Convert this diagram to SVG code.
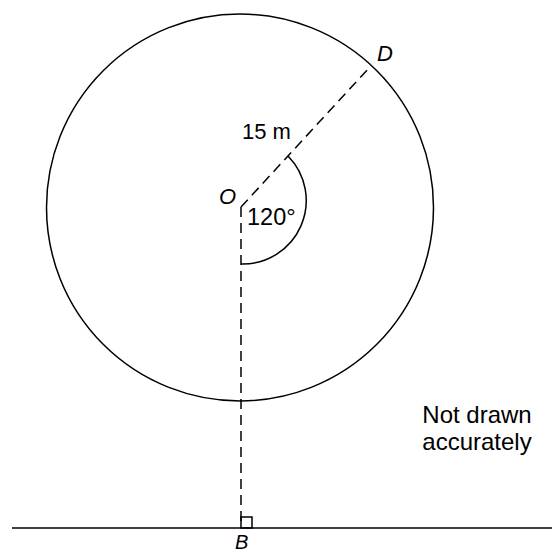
<svg xmlns="http://www.w3.org/2000/svg" width="552" height="553" viewBox="0 0 552 553">
<style>
.ln{fill:none;stroke:#000;stroke-width:1.5}
.ds{fill:none;stroke:#000;stroke-width:1.5;stroke-dasharray:10 6}
.t{font-family:"Liberation Sans",Arial,sans-serif;font-size:22px;fill:#000}
.it{font-style:italic}
</style>
<rect width="552" height="553" fill="#fff"/>
<g id="circle"><circle class="ln" cx="240" cy="207.5" r="193.5"/></g>
<g id="ground"><line class="ln" x1="12" y1="528" x2="552" y2="528"/></g>
<g id="connectors">
<line class="ds" x1="241" y1="207" x2="241" y2="528"/>
<line class="ds" x1="241" y1="207" x2="369" y2="68"/>
<path class="ln" d="M288 156 A63.5 63.5 0 0 1 241 264"/>
<rect class="ln" x="241" y="517" width="11" height="11"/>
</g>
<g id="O"><text class="t it" x="219" y="204">O</text></g>
<g id="D"><text class="t it" x="377" y="61">D</text></g>
<g id="B"><text class="t it" x="235" y="549" style="font-size:20px">B</text></g>
<g id="angle"><text class="t" x="247" y="225" style="font-size:23.5px">120°</text></g>
<g id="radius"><text class="t" x="242" y="139">15 m</text></g>
<g id="note">
<text class="t" x="477" y="423" text-anchor="middle" style="font-size:24px">Not drawn</text>
<text class="t" x="477" y="450" text-anchor="middle" style="font-size:24px">accurately</text>
</g>
</svg>
